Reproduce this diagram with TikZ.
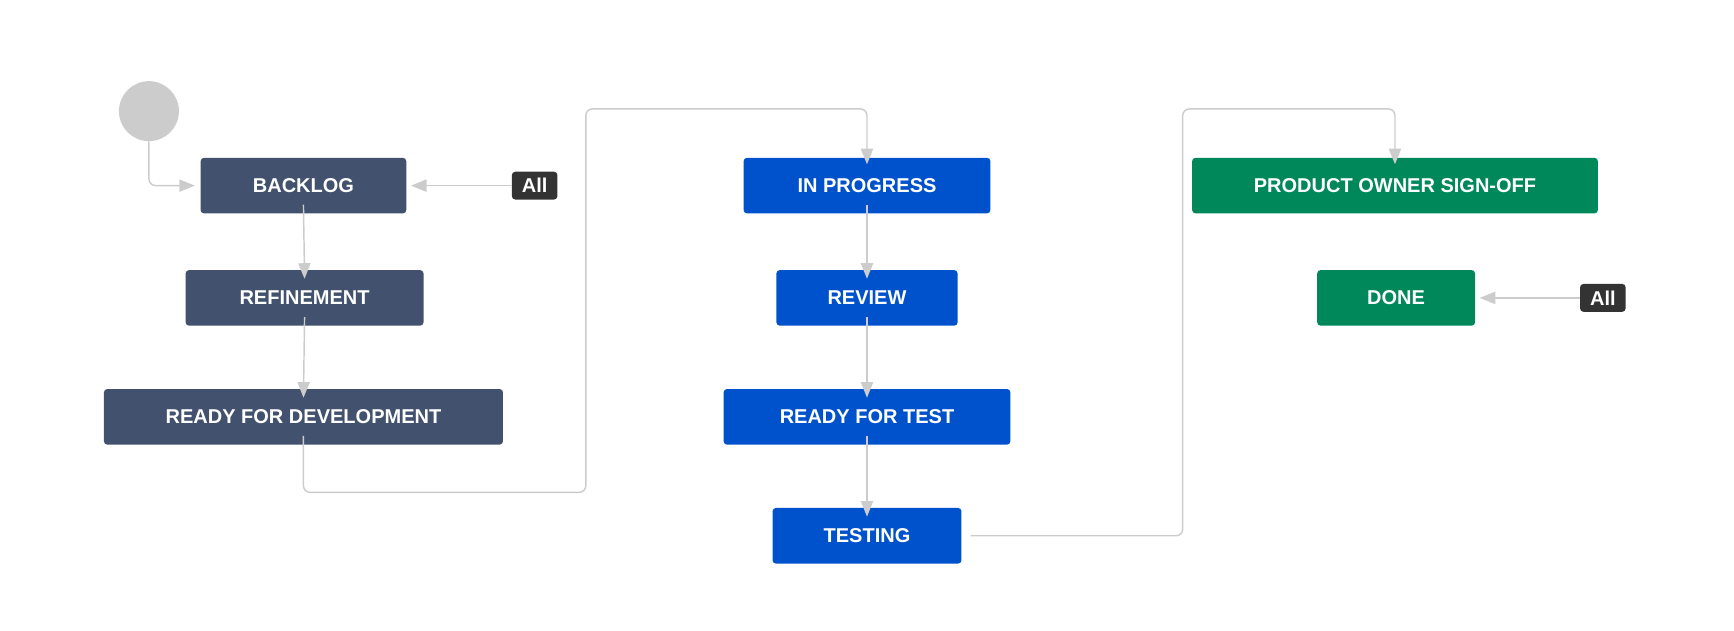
\documentclass[tikz,border=0pt]{standalone}
\usepackage{fontspec}
\setmainfont{Liberation Sans}
\usetikzlibrary{positioning}
\usetikzlibrary{arrows.meta}
\definecolor{todo}{HTML}{42526E}
\definecolor{prog}{HTML}{0052CC}
\definecolor{fini}{HTML}{00875A}
\definecolor{link}{HTML}{CCCCCC}
\definecolor{tag}{HTML}{333333}
\tikzset{
	every node/.style = {font=\bfseries\fontsize{18}{20}\selectfont, text=white},
	state/.style = {rounded corners=3pt, minimum height=50pt, inner sep=0pt},
	alltag/.style = {fill=tag, rounded corners=3pt, minimum width=41pt, minimum height=25pt, inner sep=0pt},
	move/.style = {draw=link, line width=1.3pt, rounded corners=6pt, -{Triangle[length=14pt,width=11pt]}}
}
\begin{document}
\begin{tikzpicture}[x=1pt, y=-1pt]
	\useasboundingbox (0,0) rectangle (1560,567);
	% start
	\node[circle, fill=link, minimum size=54pt] (start) at (134,100) {};
	% to do column
	\node[state, fill=todo, minimum width=185pt] (backlog) at (273,167) {BACKLOG};
	\node[state, fill=todo, minimum width=214pt] (refine) at (274,268) {REFINEMENT};
	\node[state, fill=todo, minimum width=359pt] (ready) at (273,375) {READY FOR DEVELOPMENT};
	\node[alltag] (all1) at (481,167) {All};
	% in progress column
	\node[state, fill=prog, minimum width=222pt] (inprog) at (780,167) {IN PROGRESS};
	\node[state, fill=prog, minimum width=163pt] (review) at (780,268) {REVIEW};
	\node[state, fill=prog, minimum width=258pt] (rtest) at (780,375) {READY FOR TEST};
	\node[state, fill=prog, minimum width=170pt] (testing) at (780,482) {TESTING};
	% done column
	\node[state, fill=fini, minimum width=365pt] (signoff) at (1255,167) {PRODUCT OWNER SIGN-OFF};
	\node[state, fill=fini, minimum width=142pt] (done) at (1256,268) {DONE};
	\node[alltag] (all2) at (1442,268) {All};
	% bends
	\coordinate (b1) at (273,443);
	\coordinate (b2) at (527,98);
	\coordinate (b3) at (1064,98);
	% moves
	\draw[move] (start.south) |- ([xshift=-5pt]backlog.west);
	\draw[move] (all1.west) -- ([xshift=4pt]backlog.east);
	\draw[move] ([yshift=8pt]backlog.south) -- ([yshift=-8pt]refine.north);
	\draw[move] ([yshift=8pt]refine.south) -- ([yshift=-8pt]ready.north);
	\draw[move] ([yshift=8pt]ready.south) -- (b1) -| (b2) -| ([yshift=-6pt]inprog.north);
	\draw[move] ([yshift=8pt]inprog.south) -- ([yshift=-8pt]review.north);
	\draw[move] ([yshift=8pt]review.south) -- ([yshift=-8pt]rtest.north);
	\draw[move] ([yshift=8pt]rtest.south) -- ([yshift=-8pt]testing.north);
	\draw[move] ([xshift=8pt]testing.east) -| (b3) -| ([yshift=-6pt]signoff.north);
	\draw[move] (all2.west) -- ([xshift=4pt]done.east);
\end{tikzpicture}
\end{document}
